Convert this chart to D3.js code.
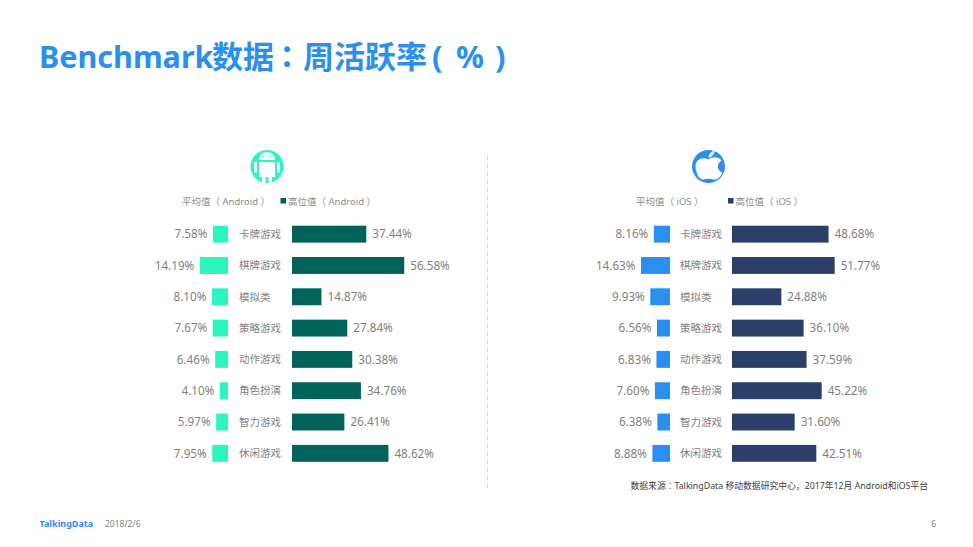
<!DOCTYPE html>
<html>
<head>
<meta charset="utf-8">
<script src="https://cdn.jsdelivr.net/npm/d3@7"></script>
<style>
html, body { margin: 0; padding: 0; background: #fff; }
svg { display: block; }
text { font-family: "Noto Sans", "Noto Sans CJK SC", sans-serif; }
</style>
</head>
<body>
<svg></svg>
<script>
var width = 973,
    height = 547;

var categories = ["卡牌游戏", "棋牌游戏", "模拟类", "策略游戏", "动作游戏", "角色扮演", "智力游戏", "休闲游戏"];
var androidAvg = [7.58, 14.19, 8.10, 7.67, 6.46, 4.10, 5.97, 7.95];
var androidHigh = [37.44, 56.58, 14.87, 27.84, 30.38, 34.76, 26.41, 48.62];
var iosAvg = [8.16, 14.63, 9.93, 6.56, 6.83, 7.60, 6.38, 8.88];
var iosHigh = [48.68, 51.77, 24.88, 36.10, 37.59, 45.22, 31.60, 42.51];

var svg = d3.select("svg")
    .attr("width", width)
    .attr("height", height);

var x = d3.scaleLinear().domain([0, 60]).range([0, 119]);

var y = d3.scaleBand()
    .domain(categories)
    .range([218.5, 469])
    .paddingInner(0.46)
    .paddingOuter(0.23);

// title pieces are placed one by one, the punctuation sits differently in the original font
var title = svg.append("text")
    .attr("y", 68)
    .attr("font-size", 31)
    .attr("font-weight", 700)
    .attr("fill", "#2b8ff0");
title.append("tspan").attr("x", 39).attr("font-size", 30.5).text("Benchmark");
title.append("tspan").attr("x", 212).text("数据");
title.append("tspan").attr("x", 271.5).style("font-family", "'Noto Sans CJK TC'").text("：");
title.append("tspan").attr("x", 303).text("周活跃率");
title.append("tspan").attr("x", 432).text("(");
title.append("tspan").attr("x", 456).text("%");
title.append("tspan").attr("x", 495).text(")");

function drawPanel(opt) {
    var g = svg.append("g");

    g.selectAll(".avg")
        .data(opt.avg)
        .enter().append("rect")
        .attr("x", d => opt.avgRight - x(d))
        .attr("y", (d, i) => y(categories[i]))
        .attr("width", d => x(d))
        .attr("height", y.bandwidth())
        .attr("fill", opt.avgColor);

    g.selectAll(".high")
        .data(opt.high)
        .enter().append("rect")
        .attr("x", opt.highLeft)
        .attr("y", (d, i) => y(categories[i]))
        .attr("width", d => x(d))
        .attr("height", y.bandwidth())
        .attr("fill", opt.highColor);

    g.selectAll(".avgLabel")
        .data(opt.avg)
        .enter().append("text")
        .attr("x", d => opt.avgRight - x(d) - 5.5)
        .attr("y", (d, i) => y(categories[i]) + y.bandwidth() / 2)
        .attr("dy", "0.36em")
        .attr("text-anchor", "end")
        .attr("font-size", 11.7)
        .attr("fill", "#7f7f7f")
        .text(d => d.toFixed(2) + "%");

    g.selectAll(".highLabel")
        .data(opt.high)
        .enter().append("text")
        .attr("x", d => opt.highLeft + x(d) + 6)
        .attr("y", (d, i) => y(categories[i]) + y.bandwidth() / 2)
        .attr("dy", "0.36em")
        .attr("font-size", 11.7)
        .attr("fill", "#7f7f7f")
        .text(d => d.toFixed(2) + "%");

    g.selectAll(".cat")
        .data(categories)
        .enter().append("text")
        .attr("x", opt.catX)
        .attr("y", d => y(d) + y.bandwidth() / 2)
        .attr("dy", "0.36em")
        .attr("font-size", 10.5)
        .attr("fill", "#7f7f7f")
        .text(d => d);

    // legend
    g.append("text")
        .attr("x", opt.legendX)
        .attr("y", 205)
        .attr("font-size", 9.5)
        .attr("fill", "#8c8c8c")
        .text("平均值（ " + opt.name + " ）");
    g.append("rect")
        .attr("x", opt.legendBoxX)
        .attr("y", 198)
        .attr("width", 5.5)
        .attr("height", 5.5)
        .attr("fill", opt.highColor);
    g.append("text")
        .attr("x", opt.legendBoxX + 7.5)
        .attr("y", 205)
        .attr("font-size", 9.5)
        .attr("fill", "#8c8c8c")
        .text("高位值（ " + opt.name + " ）");
}

drawPanel({
    name: "Android", avg: androidAvg, high: androidHigh,
    avgRight: 228, highLeft: 292, catX: 239,
    avgColor: "#2cf6bf", highColor: "#00635a",
    legendX: 182, legendBoxX: 280.5
});

drawPanel({
    name: "iOS", avg: iosAvg, high: iosHigh,
    avgRight: 670, highLeft: 732, catX: 680,
    avgColor: "#2b8ff0", highColor: "#2c3f6b",
    legendX: 636, legendBoxX: 728
});

// android icon: teal disk with a white robot on it
var android = svg.append("g").attr("transform", "translate(267,166.5)");
android.append("circle").attr("r", 16.5).attr("fill", "#2cf6bf");
android.append("path")
    .attr("fill", "#fff")
    .attr("d", "M-8,-6.5 A8,8 0 0 1 8,-6.5 Z M-8,-4.5 H8 V10.5 H5 V16.3 H1.5 V10.5 H-1.5 V16.3 H-5 V10.5 H-8 Z M-13,-4.5 H-10 V6 H-13 Z M10,-4.5 H13 V6 H10 Z");
android.append("circle").attr("cx", -3.5).attr("cy", -10).attr("r", 0.8).attr("fill", "#2cf6bf");
android.append("circle").attr("cx", 3.5).attr("cy", -10).attr("r", 0.8).attr("fill", "#2cf6bf");

// apple icon
var apple = svg.append("g").attr("transform", "translate(708.5,166.5)");
apple.append("circle").attr("r", 16.5).attr("fill", "#2b8ff0");
apple.append("path")
    .attr("fill", "#fff")
    .attr("d", "M0,-7 C4,-10 10,-10 13,-6 C8,-3 8,4 14,6 C12,11 8,14 5,13 C2,12 -2,12 -5,13 C-9,14 -13,6 -13,0 C-13,-8 -5,-10 0,-7 Z M0,-9 C0,-12 3,-15 6,-16.5 C6,-13 4,-9 0,-9 Z");

svg.append("line")
    .attr("x1", 487.5).attr("x2", 487.5)
    .attr("y1", 155).attr("y2", 488)
    .attr("stroke", "#d9d9d9")
    .attr("stroke-dasharray", "5,3");

var source = svg.append("text")
    .attr("x", 928)
    .attr("y", 489)
    .attr("text-anchor", "end")
    .attr("font-size", 8.8)
    .attr("fill", "#404040");
source.append("tspan").text("数据来源");
source.append("tspan").style("font-family", "'Noto Sans CJK TC'").text("：");
source.append("tspan").text("TalkingData 移动数据研究中心，2017年12月 Android和iOS平台");

svg.append("text")
    .attr("x", 39.5)
    .attr("y", 527)
    .attr("font-size", 9)
    .attr("font-weight", 700)
    .attr("fill", "#2b8ff0")
    .text("TalkingData");

svg.append("text")
    .attr("x", 105)
    .attr("y", 527)
    .attr("font-size", 8.5)
    .attr("fill", "#7f7f7f")
    .text("2018/2/6");

svg.append("text")
    .attr("x", 936)
    .attr("y", 527)
    .attr("text-anchor", "end")
    .attr("font-size", 8.5)
    .attr("fill", "#7f7f7f")
    .text("6");
</script>
</body>
</html>
